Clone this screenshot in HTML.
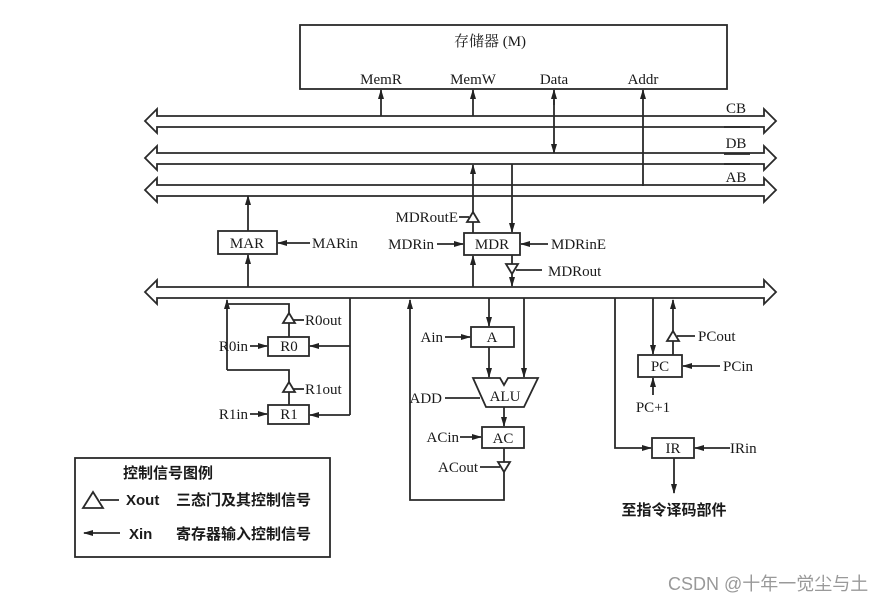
<!DOCTYPE html>
<html><head><meta charset="utf-8"><style>
html,body{margin:0;padding:0;background:#fff}
svg{display:block}
text{font-family:"Liberation Serif","Noto Serif CJK SC",serif;font-size:15px;fill:#1a1a1a}
.c{font-family:"Liberation Sans","Noto Sans CJK SC",sans-serif;font-weight:bold;font-size:15px}
</style></head><body>
<svg width="896" height="602" viewBox="0 0 896 602" xmlns="http://www.w3.org/2000/svg">
<defs>
<marker id="a" markerWidth="10" markerHeight="8" refX="9" refY="4" orient="auto" markerUnits="userSpaceOnUse"><path d="M0,1 L10,4 L0,7 Z" fill="#222"/></marker>
</defs>
<g stroke="#2a2a2a" stroke-width="1.8" fill="none">
<rect x="300" y="25" width="427" height="64"/>
<path d="M145,121 L157,109 L157,116 L764,116 L764,109 L776,121 L764,133 L764,127 L157,127 L157,133 Z"/>
<path d="M145,158 L157,146 L157,153 L764,153 L764,146 L776,158 L764,170 L764,164 L157,164 L157,170 Z"/>
<path d="M145,190 L157,178 L157,185 L764,185 L764,178 L776,190 L764,202 L764,196 L157,196 L157,202 Z"/>
<path d="M145,292 L157,280 L157,287 L764,287 L764,280 L776,292 L764,304 L764,298 L157,298 L157,304 Z"/>
<line x1="724" y1="127" x2="750" y2="127"/><line x1="724" y1="154" x2="750" y2="154"/><line x1="724" y1="164" x2="750" y2="164"/>
<line x1="381" y1="116" x2="381" y2="90" marker-end="url(#a)"/>
<line x1="473" y1="116" x2="473" y2="90" marker-end="url(#a)"/>
<line x1="554" y1="105" x2="554" y2="90" marker-end="url(#a)"/>
<line x1="554" y1="100" x2="554" y2="153" marker-end="url(#a)"/>
<line x1="643" y1="186" x2="643" y2="90" marker-end="url(#a)"/>
<rect x="218" y="231" width="59" height="23"/>
<line x1="248" y1="231" x2="248" y2="196" marker-end="url(#a)"/>
<line x1="248" y1="287" x2="248" y2="255" marker-end="url(#a)"/>
<line x1="310" y1="243" x2="278" y2="243" marker-end="url(#a)"/>
<rect x="464" y="233" width="56" height="22"/>
<line x1="473" y1="233" x2="473" y2="222"/>
<path d="M467,222 L479,222 L473,212 Z"/>
<line x1="473" y1="212" x2="473" y2="165" marker-end="url(#a)"/>
<line x1="459" y1="217" x2="469" y2="217"/>
<line x1="512" y1="164" x2="512" y2="232" marker-end="url(#a)"/>
<line x1="437" y1="244" x2="463" y2="244" marker-end="url(#a)"/>
<line x1="548" y1="244" x2="521" y2="244" marker-end="url(#a)"/>
<line x1="512" y1="255" x2="512" y2="264"/>
<path d="M506,264 L518,264 L512,274 Z"/>
<line x1="512" y1="274" x2="512" y2="286" marker-end="url(#a)"/>
<line x1="516" y1="270" x2="542" y2="270"/>
<line x1="473" y1="287" x2="473" y2="256" marker-end="url(#a)"/>
<line x1="227" y1="370" x2="227" y2="300" marker-end="url(#a)"/>
<polyline points="227,304 289,304 289,313"/>
<path d="M283,323 L295,323 L289,313 Z"/>
<line x1="289" y1="323" x2="289" y2="337"/>
<line x1="293" y1="320" x2="304" y2="320"/>
<rect x="268" y="337" width="41" height="19"/>
<line x1="250" y1="346" x2="267" y2="346" marker-end="url(#a)"/>
<polyline points="227,370 289,370 289,382"/>
<path d="M283,392 L295,392 L289,382 Z"/>
<line x1="289" y1="392" x2="289" y2="405"/>
<line x1="293" y1="389" x2="304" y2="389"/>
<rect x="268" y="405" width="41" height="19"/>
<line x1="250" y1="414" x2="267" y2="414" marker-end="url(#a)"/>
<line x1="350" y1="298" x2="350" y2="415"/>
<line x1="350" y1="346" x2="310" y2="346" marker-end="url(#a)"/>
<line x1="350" y1="415" x2="310" y2="415" marker-end="url(#a)"/>
<polyline points="504,472 504,500 410,500 410,300" marker-end="url(#a)"/>
<line x1="489" y1="298" x2="489" y2="326" marker-end="url(#a)"/>
<rect x="471" y="327" width="43" height="20"/>
<line x1="445" y1="337" x2="470" y2="337" marker-end="url(#a)"/>
<line x1="489" y1="347" x2="489" y2="377" marker-end="url(#a)"/>
<line x1="524" y1="298" x2="524" y2="377" marker-end="url(#a)"/>
<path d="M473,378 L500,378 L504,385 L508,378 L538,378 L524,407 L486,407 Z"/>
<line x1="445" y1="398" x2="480" y2="398"/>
<line x1="504" y1="407" x2="504" y2="426" marker-end="url(#a)"/>
<rect x="482" y="427" width="42" height="21"/>
<line x1="460" y1="437" x2="481" y2="437" marker-end="url(#a)"/>
<line x1="504" y1="448" x2="504" y2="462"/>
<path d="M498,462 L510,462 L504,472 Z"/>
<line x1="480" y1="467" x2="500" y2="467"/>
<polyline points="615,298 615,448 651,448" marker-end="url(#a)"/>
<rect x="652" y="438" width="42" height="20"/>
<line x1="730" y1="448" x2="695" y2="448" marker-end="url(#a)"/>
<line x1="674" y1="458" x2="674" y2="493" marker-end="url(#a)"/>
<line x1="653" y1="298" x2="653" y2="354" marker-end="url(#a)"/>
<rect x="638" y="355" width="44" height="22"/>
<line x1="673" y1="355" x2="673" y2="341"/>
<path d="M667,341 L679,341 L673,331 Z"/>
<line x1="673" y1="331" x2="673" y2="300" marker-end="url(#a)"/>
<line x1="677" y1="336" x2="695" y2="336"/>
<line x1="720" y1="366" x2="683" y2="366" marker-end="url(#a)"/>
<line x1="653" y1="395" x2="653" y2="378" marker-end="url(#a)"/>
<rect x="75" y="458" width="255" height="99"/>
<path d="M83,508 L103,508 L93,492 Z"/>
<line x1="100" y1="500" x2="119" y2="500"/>
<line x1="120" y1="533" x2="84" y2="533" marker-end="url(#a)"/>
</g>
<g>
<text x="490" y="46" text-anchor="middle">存储器 (M)</text>
<text x="381" y="84" text-anchor="middle">MemR</text>
<text x="473" y="84" text-anchor="middle">MemW</text>
<text x="554" y="84" text-anchor="middle">Data</text>
<text x="643" y="84" text-anchor="middle">Addr</text>
<text x="736" y="113" text-anchor="middle">CB</text>
<text x="736" y="148" text-anchor="middle">DB</text>
<text x="736" y="182" text-anchor="middle">AB</text>
<text x="247" y="248" text-anchor="middle">MAR</text>
<text x="312" y="248">MARin</text>
<text x="458" y="222" text-anchor="end">MDRoutE</text>
<text x="492" y="249" text-anchor="middle">MDR</text>
<text x="434" y="249" text-anchor="end">MDRin</text>
<text x="551" y="249">MDRinE</text>
<text x="548" y="276">MDRout</text>
<text x="305" y="325">R0out</text>
<text x="289" y="351" text-anchor="middle">R0</text>
<text x="248" y="351" text-anchor="end">R0in</text>
<text x="305" y="394">R1out</text>
<text x="289" y="419" text-anchor="middle">R1</text>
<text x="248" y="419" text-anchor="end">R1in</text>
<text x="492" y="342" text-anchor="middle">A</text>
<text x="443" y="342" text-anchor="end">Ain</text>
<text x="505" y="401" text-anchor="middle">ALU</text>
<text x="442" y="403" text-anchor="end">ADD</text>
<text x="503" y="443" text-anchor="middle">AC</text>
<text x="459" y="442" text-anchor="end">ACin</text>
<text x="478" y="472" text-anchor="end">ACout</text>
<text x="660" y="371" text-anchor="middle">PC</text>
<text x="698" y="341">PCout</text>
<text x="723" y="371">PCin</text>
<text x="653" y="412" text-anchor="middle">PC+1</text>
<text x="673" y="453" text-anchor="middle">IR</text>
<text x="730" y="453">IRin</text>
<text x="674" y="515" text-anchor="middle" class="c">至指令译码部件</text>
<text x="123" y="478" class="c">控制信号图例</text>
<text x="126" y="505" class="c">Xout</text>
<text x="176" y="505" class="c">三态门及其控制信号</text>
<text x="129" y="539" class="c">Xin</text>
<text x="176" y="539" class="c">寄存器输入控制信号</text>
<text x="668" y="590" style="font-family:'Liberation Sans','Noto Sans CJK SC',sans-serif;font-size:18px;fill:#999">CSDN @十年一觉尘与土</text>
</g>
</svg>
</body></html>
